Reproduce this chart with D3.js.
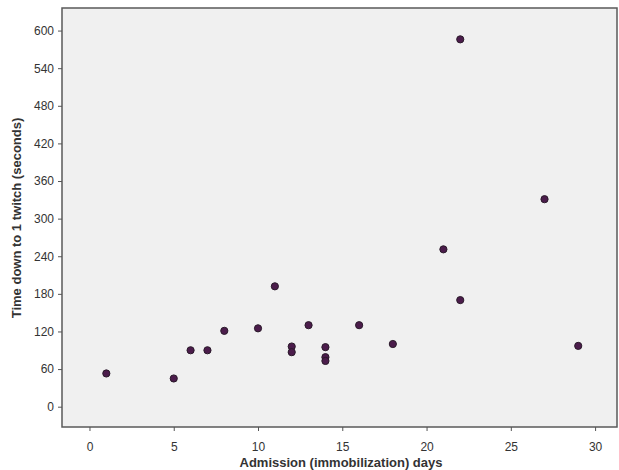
<!DOCTYPE html>
<html>
<head>
<meta charset="utf-8">
<script src="https://cdn.jsdelivr.net/npm/d3@7"></script>
<style>
  body { margin: 0; background: #fff; }
  svg { display: block; font-family: Arial, "Liberation Sans", sans-serif; }
</style>
</head>
<body>
<div id="chart"></div>
<script>
// values
var days = [1, 5, 6, 7, 8, 10, 11, 12, 12, 13, 14, 14, 14, 16, 18, 21, 22, 22, 27, 29];
var twitchTime = [53, 45, 90, 90, 121, 125, 192, 96, 87, 130, 95, 79, 73, 130, 100, 251, 586, 170, 331, 97];
var xTicks = [0, 5, 10, 15, 20, 25, 30];
var yTicks = [0, 60, 120, 180, 240, 300, 360, 420, 480, 540, 600];

var width = 619, height = 470;
var margin = { top: 8, right: 2, bottom: 43, left: 62 };

var svg = d3.select("#chart")
    .append("svg")
    .attr("width", width)
    .attr("height", height);

var x = d3.scaleLinear()
    .domain([-1.63, 31.3])
    .range([margin.left, width - margin.right]);

var y = d3.scaleLinear()
    .domain([-32.4, 636])
    .range([height - margin.bottom, margin.top]);

// plot background + frame
svg.append("rect")
    .attr("x", margin.left)
    .attr("y", margin.top)
    .attr("width", width - margin.left - margin.right)
    .attr("height", height - margin.top - margin.bottom)
    .attr("fill", "#f0f0f0")
    .attr("stroke", "#5a5a5a")
    .attr("stroke-width", 1.5);

var xAxis = g => g
    .attr("transform", `translate(0,${height - margin.bottom})`)
    .call(d3.axisBottom(x).tickValues(xTicks).tickSize(4).tickSizeOuter(0))
    .call(g => g.select(".domain").remove())
    .call(g => g.selectAll(".tick line").attr("stroke", "#555"))
    .call(g => g.selectAll(".tick text")
        .attr("dy", "0")
        .attr("y", 24)
        .attr("font-size", 12)
        .attr("fill", "#333"));

var yAxis = g => g
    .attr("transform", `translate(${margin.left},0)`)
    .call(d3.axisLeft(y).tickValues(yTicks).tickSize(4).tickSizeOuter(0))
    .call(g => g.select(".domain").remove())
    .call(g => g.selectAll(".tick line").attr("stroke", "#555"))
    .call(g => g.selectAll(".tick text")
        .attr("x", -8)
        .attr("font-size", 12)
        .attr("fill", "#333"));

svg.append("g").attr("font-family", null).call(xAxis);
svg.append("g").attr("font-family", null).call(yAxis);

// points
var pts = days.map((d, i) => ({ day: d, time: twitchTime[i] }));
svg.append("g")
    .selectAll("circle")
    .data(pts)
    .join("circle")
    .attr("cx", d => x(d.day))
    .attr("cy", d => y(d.time))
    .attr("r", 3.6)
    .attr("fill", "#4b1c4b")
    .attr("stroke", "#2a1a2a")
    .attr("stroke-width", 1);

// axis titles
svg.append("text")
    .attr("x", 341)
    .attr("y", 467)
    .attr("text-anchor", "middle")
    .attr("font-size", 13)
    .attr("font-weight", "bold")
    .attr("fill", "#333")
    .text("Admission (immobilization) days");

svg.append("text")
    .attr("transform", "translate(21,218) rotate(-90)")
    .attr("text-anchor", "middle")
    .attr("font-size", 13)
    .attr("font-weight", "bold")
    .attr("fill", "#333")
    .text("Time down to 1 twitch (seconds)");
</script>
</body>
</html>
